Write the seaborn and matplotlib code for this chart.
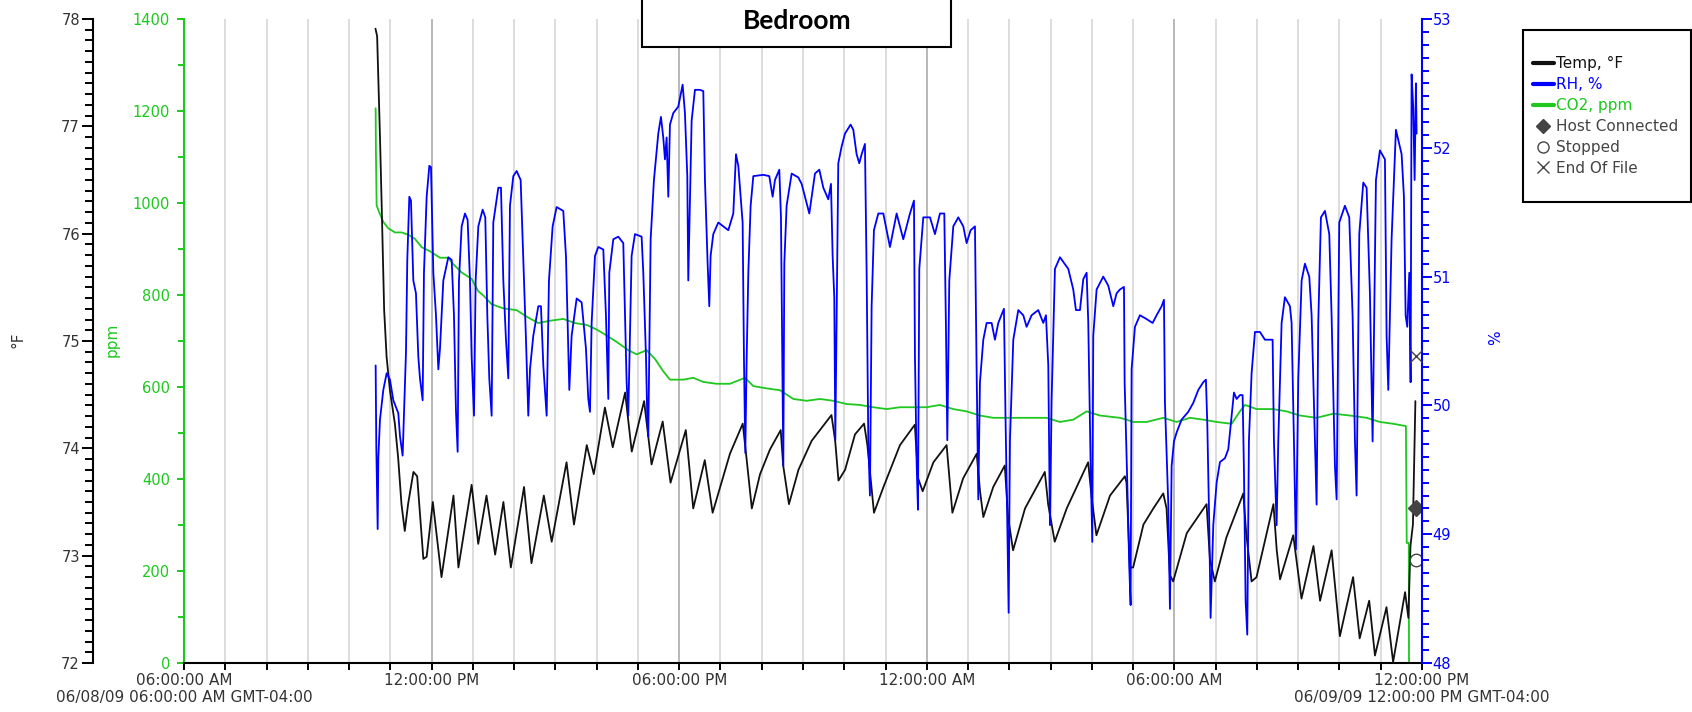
import matplotlib
matplotlib.use("Agg")
import matplotlib.pyplot as plt
import seaborn as sns
from matplotlib.lines import Line2D
from matplotlib.patches import Rectangle
from matplotlib.ticker import MultipleLocator

# ---------------- data (hours after 06/08/09 06:00:00 AM) ----------------
temp_hours = [4.64, 4.68, 4.75, 4.79, 4.85, 4.91, 4.99, 5.11, 5.19, 5.27, 5.35, 5.43, 5.56, 5.65,
              5.80, 5.88, 6.03, 6.24, 6.53, 6.65, 6.97, 7.13, 7.33, 7.54, 7.74, 7.92, 8.24, 8.42,
              8.72, 8.91, 9.27, 9.45, 9.76, 9.93, 10.20, 10.39, 10.69, 10.85, 11.15, 11.33, 11.60,
              11.79, 12.16, 12.34, 12.62, 12.81, 13.23, 13.54, 13.62, 13.76, 13.96, 14.20, 14.46,
              14.52, 14.66, 14.89, 15.21, 15.69, 15.78, 15.86, 16.02, 16.26, 16.48, 16.56, 16.72,
              16.95, 17.35, 17.71, 17.79, 17.90, 18.16, 18.48, 18.54, 18.62, 18.88, 19.21, 19.29,
              19.37, 19.61, 19.89, 19.97, 20.09, 20.38, 20.86, 20.94, 21.10, 21.39, 21.91, 21.99,
              22.11, 22.44, 22.80, 22.84, 22.92, 23.00, 23.25, 23.49, 23.73, 23.81, 23.89, 23.97,
              24.30, 24.78, 24.86, 24.98, 25.26, 25.67, 25.74, 25.87, 25.99, 26.40, 26.48, 26.56,
              26.88, 27.08, 27.37, 27.53, 27.81, 28.01, 28.33, 28.49, 28.72, 28.86, 29.14, 29.30,
              29.59, 29.67, 29.72, 29.78, 29.84]
temp_f = [77.91, 77.84, 76.89, 76.27, 75.29, 74.85, 74.54, 74.23, 73.91, 73.48, 73.23, 73.48, 73.78, 73.74,
          72.97, 72.99, 73.50, 72.80, 73.56, 72.89, 73.66, 73.11, 73.56, 73.01, 73.50, 72.89, 73.64, 72.93,
          73.56, 73.13, 73.87, 73.29, 74.03, 73.76, 74.38, 74.01, 74.52, 73.97, 74.44, 73.85, 74.25,
          73.68, 74.17, 73.44, 73.89, 73.40, 73.95, 74.23, 73.95, 73.44, 73.76, 73.99, 74.17,
          73.84, 73.48, 73.80, 74.07, 74.31, 74.07, 73.70, 73.80, 74.13, 74.23, 74.03, 73.40,
          73.64, 74.03, 74.22, 73.72, 73.60, 73.87, 74.03, 73.76, 73.40, 73.72, 73.95, 73.60,
          73.36, 73.64, 73.84, 73.36, 73.05, 73.44, 73.78, 73.48, 73.13, 73.44, 73.87, 73.56,
          73.19, 73.56, 73.74, 73.68, 72.89, 72.89, 73.29, 73.44, 73.58, 73.44, 72.82, 72.76,
          73.21, 73.48, 72.97, 72.76, 73.17, 73.58, 73.21, 72.76, 72.80, 73.48, 73.05, 72.78,
          73.19, 72.60, 73.09, 72.58, 73.05, 72.25, 72.80, 72.23, 72.58, 72.07, 72.52, 72.01,
          72.66, 72.42, 73.09, 73.29, 74.44]

rh_hours = [4.644, 4.660, 4.693, 4.709, 4.749, 4.830, 4.911, 4.991, 5.072, 5.193, 5.234, 5.298, 5.379,
            5.411, 5.460, 5.500, 5.557, 5.621, 5.678, 5.718, 5.783, 5.815, 5.880, 5.945, 5.985, 6.042,
            6.106, 6.163, 6.203, 6.284, 6.405, 6.486, 6.542, 6.591, 6.631, 6.663, 6.728, 6.809, 6.873,
            6.930, 6.970, 7.027, 7.067, 7.132, 7.237, 7.301, 7.350, 7.398, 7.455, 7.495, 7.617, 7.681,
            7.738, 7.802, 7.859, 7.899, 7.980, 8.061, 8.158, 8.222, 8.287, 8.343, 8.384, 8.464, 8.586,
            8.650, 8.707, 8.788, 8.844, 8.933, 9.030, 9.191, 9.256, 9.296, 9.337, 9.393, 9.515, 9.636,
            9.741, 9.797, 9.838, 9.878, 9.959, 10.039, 10.161, 10.225, 10.282, 10.306, 10.403, 10.524,
            10.645, 10.686, 10.726, 10.766, 10.847, 10.928, 11.089, 11.130, 11.195, 11.227, 11.251,
            11.308, 11.388, 11.493, 11.558, 11.614, 11.655, 11.695, 11.736, 11.776, 11.857, 11.978,
            12.083, 12.139, 12.196, 12.220, 12.261, 12.301, 12.382, 12.503, 12.584, 12.624, 12.689,
            12.729, 12.761, 12.826, 12.947, 13.069, 13.190,
            13.311, 13.376, 13.432, 13.489, 13.537, 13.570, 13.602, 13.634, 13.675, 13.731, 13.796,
            14.038, 14.183, 14.264, 14.321, 14.426, 14.466, 14.490, 14.523, 14.547, 14.603, 14.725,
            14.886, 14.967, 15.153, 15.290, 15.395, 15.492, 15.613, 15.678, 15.718, 15.758, 15.783,
            15.815, 15.855, 15.936, 16.017, 16.154, 16.219, 16.299, 16.364, 16.421, 16.501, 16.542,
            16.582, 16.622, 16.663, 16.719, 16.825, 16.946, 17.107, 17.269, 17.430, 17.592, 17.689,
            17.713, 17.753, 17.786, 17.818, 17.915, 18.077, 18.198, 18.319, 18.424, 18.464, 18.497,
            18.545, 18.642, 18.763, 18.884, 18.965, 19.062, 19.167, 19.207, 19.248, 19.288, 19.369,
            19.450, 19.571, 19.651, 19.732, 19.869, 19.910, 19.950, 19.983, 20.015, 20.096, 20.217,
            20.338, 20.419, 20.540, 20.701, 20.823, 20.887, 20.944, 20.984, 21.025, 21.105, 21.227,
            21.428, 21.549, 21.614, 21.711, 21.792, 21.873, 21.913, 21.969, 22.010, 22.034, 22.115,
            22.276, 22.397, 22.519, 22.599,
            22.680, 22.778, 22.794, 22.858, 22.907, 22.939, 22.963, 23.044, 23.165, 23.327, 23.472,
            23.569, 23.690, 23.747, 23.771, 23.852, 23.892, 23.933, 23.989, 24.054, 24.175, 24.336,
            24.458, 24.579, 24.700, 24.764, 24.797, 24.845, 24.877, 24.942, 25.023, 25.104, 25.225,
            25.306, 25.386, 25.443, 25.508, 25.588, 25.653, 25.685, 25.726, 25.766, 25.806, 25.871,
            25.952, 26.073, 26.194, 26.380, 26.412, 26.477, 26.517, 26.598, 26.678, 26.800, 26.840,
            26.897, 26.945, 27.002, 27.083, 27.163, 27.268, 27.325, 27.406, 27.446, 27.486, 27.551,
            27.648, 27.753, 27.809, 27.890, 27.931, 27.995, 28.132, 28.237, 28.318, 28.375, 28.415,
            28.480, 28.577, 28.658, 28.738, 28.803, 28.884, 28.980, 29.102, 29.142, 29.183, 29.263,
            29.368, 29.506, 29.562, 29.603, 29.643, 29.692, 29.724, 29.748, 29.788, 29.821, 29.853,
            29.869]
rh_pct = [50.31, 49.68, 49.04, 49.59, 49.89, 50.12, 50.25, 50.20, 50.04, 49.94, 49.76, 49.61, 50.41,
          51.13, 51.62, 51.59, 50.97, 50.87, 50.38, 50.21, 50.04, 51.03, 51.62, 51.86, 51.85, 51.03,
          50.70, 50.28, 50.44, 50.97, 51.15, 51.13, 50.70, 49.95, 49.64, 50.97, 51.39, 51.49, 51.44,
          50.97, 50.38, 49.92, 50.97, 51.39, 51.52, 51.46, 50.70, 50.21, 49.92, 51.42, 51.69, 51.69,
          50.97, 50.51, 50.21, 51.55, 51.78, 51.82, 51.75, 51.13, 50.51, 49.92, 50.28, 50.54, 50.77,
          50.77, 50.31, 49.92, 50.97, 51.39, 51.54, 51.51, 51.16, 50.64, 50.12, 50.54, 50.83, 50.80,
          50.44, 50.05, 49.95, 50.64, 51.16, 51.23, 51.21, 50.70, 50.05, 51.03, 51.29, 51.31,
          51.26, 50.70, 50.18, 49.92, 51.16, 51.33, 51.31, 51.03, 50.38, 49.89, 49.76,
          51.29, 51.75, 52.11, 52.24, 52.08, 51.91, 52.08, 51.62, 52.18, 52.27, 52.32,
          52.49, 52.27, 51.78, 50.97, 51.59, 52.21, 52.45, 52.45, 52.44, 51.75, 51.10,
          50.77, 51.16, 51.33, 51.42, 51.39, 51.36,
          51.49, 51.95, 51.86, 51.62, 51.42, 50.35, 49.63, 50.35, 51.03, 51.55, 51.78,
          51.79, 51.78, 51.62, 51.75, 51.83, 51.46, 50.64, 49.53, 51.10, 51.55, 51.80,
          51.77, 51.72, 51.49, 51.80, 51.83, 51.69, 51.60, 51.72, 51.16, 50.84, 49.73,
          50.70, 51.88, 52.01, 52.11, 52.18, 52.14, 51.95, 51.88, 51.95, 52.03, 51.03,
          49.73, 49.30, 50.77, 51.36, 51.49, 51.49, 51.23, 51.49, 51.29, 51.49, 51.59,
          50.38, 49.56, 49.19, 51.06, 51.46, 51.46, 51.33, 51.49, 51.49, 50.61, 49.73,
          50.97, 51.39, 51.46, 51.39, 51.26, 51.36, 51.39, 50.28, 49.27, 50.18, 50.51,
          50.64, 50.64, 50.51, 50.64, 50.75, 49.86, 49.10, 48.39, 49.73, 50.51, 50.74,
          50.70, 50.61, 50.70, 50.74, 50.64, 50.70, 50.31, 49.07, 50.05, 51.06, 51.15,
          51.06, 50.90, 50.74, 50.74, 50.98, 51.03, 50.64, 49.56, 48.94, 50.54, 50.90,
          51.00, 50.93, 50.77, 50.87,
          50.90, 50.92, 50.18, 49.40, 48.74, 48.45, 50.28, 50.61, 50.70, 50.67, 50.64,
          50.70, 50.77, 50.82, 50.02, 49.23, 48.42, 49.53, 49.72, 49.79, 49.89, 49.95,
          50.02, 50.12, 50.18, 50.20, 49.86, 49.07, 48.35, 49.07, 49.40, 49.56, 49.59,
          49.66, 49.92, 50.10, 50.05, 50.08, 50.08, 49.50, 48.48, 48.22, 49.73, 50.25,
          50.57, 50.57, 50.51, 50.51, 49.72, 49.07, 49.72, 50.64, 50.84, 50.77, 50.64,
          49.72, 48.88, 50.21, 50.97, 51.10, 51.00, 50.70, 49.72, 49.23, 50.64, 51.46,
          51.51, 51.33, 50.70, 49.53, 49.27, 51.42, 51.55, 51.46, 50.70, 49.72, 49.30,
          51.33, 51.73, 51.69, 50.87, 49.72, 51.75, 51.98, 51.91, 50.54, 50.12, 51.29,
          52.14, 51.95, 51.62, 50.70, 50.61, 51.03, 50.18, 52.57, 52.31, 51.75, 52.50,
          52.11]

co2_hours = [4.644, 4.650, 4.668, 4.725, 4.830, 4.951, 5.113, 5.274, 5.436, 5.597, 5.759, 5.961,
             6.203, 6.405, 6.526, 6.728, 6.970, 7.132, 7.253, 7.455, 7.738, 8.061, 8.303, 8.586,
             8.868, 9.191, 9.474, 9.757, 10.000, 10.241, 10.484, 10.767, 10.969, 11.211, 11.413,
             11.615, 11.776, 12.099, 12.341, 12.584, 12.907, 13.230, 13.594, 13.796, 14.119,
             14.442, 14.765, 15.088, 15.411, 15.734, 16.057, 16.380, 16.703, 17.026, 17.349,
             17.673, 17.996, 18.319, 18.642, 18.965, 19.288, 19.611, 19.934, 20.257, 20.580,
             20.903, 21.226, 21.550, 21.873, 22.196, 22.680, 22.842, 23.004, 23.327, 23.731,
             24.054, 24.377, 24.700, 25.023, 25.386, 25.588, 25.709, 25.992, 26.396, 26.719,
             27.042, 27.446, 27.850, 28.254, 28.658, 28.980, 29.304, 29.610, 29.630, 29.680,
             29.685, 29.870]
co2_ppm = [1206, 1114, 995, 981, 959, 945, 936, 936, 931, 922, 904, 895,
           881, 881, 867, 849, 835, 808, 799, 780, 771, 767, 753, 739,
           744, 748, 739, 735, 725, 712, 698, 680, 671, 680, 661,
           634, 616, 616, 620, 611, 607, 607, 620, 602, 597,
           593, 574, 570, 574, 570, 563, 561, 556, 552, 556,
           556, 556, 561, 552, 547, 538, 533, 533, 533, 533,
           533, 524, 529, 547, 538, 533, 529, 524, 524, 533,
           524, 533, 529, 524, 520, 547, 561, 552, 552, 547,
           538, 533, 542, 538, 533, 524, 520, 515, 261, 261,
           0, 0]

event_labels = ["Host Connected", "Stopped", "End Of File"]
event_hours = [29.85, 29.85, 29.85]
event_temp_f = [73.44, 72.96]      # Host Connected, Stopped (°F scale)
event_rh_pct = [50.38]             # End Of File (% scale)

series_labels = ["Temp, °F", "RH, %", "CO2, ppm"]
x_tick_hours = [0, 6, 12, 18, 24, 30]
x_tick_labels = ["06:00:00 AM\n06/08/09 06:00:00 AM GMT-04:00", "12:00:00 PM", "06:00:00 PM",
                 "12:00:00 AM", "06:00:00 AM", "12:00:00 PM\n06/09/09 12:00:00 PM GMT-04:00"]
title = "Bedroom"

# ---------------- styling ----------------
sns.set_style("white")
plt.rcParams['font.family'] = ['DejaVu Sans']

BLACK = "#111111"
BLUE = "#0000ff"
GREEN = "#1ec81e"
GREY = "#444444"
TXT = "#333333"

W, H = 1692, 712
fig = plt.figure(figsize=(W / 100, H / 100), dpi=100)


def fx(px):
    return px / W


def fy(py):
    return 1 - py / H


def pt(px):
    return px * 72 / 100


ax = fig.add_axes([fx(184), fy(663), fx(1422) - fx(184), fy(19) - fy(663)])
ax_t = ax.twinx()
ax_rh = ax.twinx()

# CO2 on host
sns.lineplot(x=co2_hours, y=co2_ppm, ax=ax, color=GREEN, lw=1.3, estimator=None, sort=False)
# Temperature
sns.lineplot(x=temp_hours, y=temp_f, ax=ax_t, color=BLACK, lw=1.3, estimator=None, sort=False)
# RH
sns.lineplot(x=rh_hours, y=rh_pct, ax=ax_rh, color=BLUE, lw=1.3, estimator=None, sort=False)

# events
ax_t.plot(event_hours[0], event_temp_f[0], marker='D', ms=8.5, color=GREY, ls='none', zorder=5)
ax_t.plot(event_hours[1], event_temp_f[1], marker='o', ms=9, mfc='white', mec=GREY, mew=1.0,
          ls='none', zorder=5)
ax_rh.plot(event_hours[2], event_rh_pct[0], marker='x', ms=8, color=GREY, mew=1.0, ls='none', zorder=5)

# x axis
ax.set_xlim(0, 30)
ax.set_xticks(x_tick_hours)
ax.set_xticklabels(x_tick_labels)
ax.xaxis.set_minor_locator(MultipleLocator(1))
ax.tick_params(axis='x', which='both', direction='out', length=pt(7), width=1.4, color='black',
               labelsize=11, labelcolor=TXT, pad=2, bottom=True)
ax.grid(False)
ax.grid(which='major', axis='x', color='#b8b8b8', lw=1.4)
ax.grid(which='minor', axis='x', color='#dddddd', lw=1.4)
ax.set_axisbelow(True)
ax.set_xlabel("")
ax.set_ylabel("")

# ppm axis (host, left)
ax.set_ylim(0, 1400)
ax.yaxis.set_major_locator(MultipleLocator(200))
ax.yaxis.set_minor_locator(MultipleLocator(100))
ax.tick_params(axis='y', which='major', direction='out', length=pt(7), width=1.4, color=GREEN,
               labelcolor=GREEN, labelsize=10.5, pad=pt(7), left=True)
ax.tick_params(axis='y', which='minor', direction='out', length=pt(6), width=1.4, color=GREEN, left=True)
for s in ['top', 'right']:
    ax.spines[s].set_visible(False)
ax.spines['left'].set_color(GREEN)
ax.spines['left'].set_linewidth(1.5)
ax.spines['bottom'].set_color('black')
ax.spines['bottom'].set_linewidth(1.5)

# temperature axis (outer left)
ax_t.set_ylim(72, 78)
ax_t.yaxis.tick_left()
ax_t.yaxis.set_label_position('left')
for s in ['top', 'right', 'bottom']:
    ax_t.spines[s].set_visible(False)
ax_t.spines['left'].set_visible(True)
ax_t.spines['left'].set_position(('outward', pt(91)))
ax_t.spines['left'].set_color('black')
ax_t.spines['left'].set_linewidth(1.5)
ax_t.yaxis.set_major_locator(MultipleLocator(1))
ax_t.yaxis.set_minor_locator(MultipleLocator(0.1))
ax_t.tick_params(axis='y', which='major', direction='out', length=pt(11), width=1.4, color='black',
                 labelcolor=TXT, labelsize=10.5, pad=pt(2), left=True, right=False)
ax_t.tick_params(axis='y', which='minor', direction='out', length=pt(8), width=1.4, color='black',
                 left=True, right=False)
ax_t.set_ylabel("")
ax_t.grid(False)

# RH axis (right)
ax_rh.set_ylim(48, 53)
for s in ['top', 'left', 'bottom']:
    ax_rh.spines[s].set_visible(False)
ax_rh.spines['right'].set_color(BLUE)
ax_rh.spines['right'].set_linewidth(1.5)
ax_rh.yaxis.set_major_locator(MultipleLocator(1))
ax_rh.yaxis.set_minor_locator(MultipleLocator(0.1))
ax_rh.tick_params(axis='y', which='major', direction='out', length=pt(10), width=1.4, color=BLUE,
                  labelcolor=BLUE, labelsize=10.5, pad=0.5, right=True)
ax_rh.tick_params(axis='y', which='minor', direction='out', length=pt(7), width=1.4, color=BLUE, right=True)
ax_rh.set_ylabel("")
ax_rh.grid(False)

# axis titles
fig.text(fx(18), fy(340), "°F", rotation=90, ha='center', va='center', fontsize=11, color=TXT)
fig.text(fx(112), fy(340), "ppm", rotation=90, ha='center', va='center', fontsize=11, color=GREEN)
fig.text(fx(1496), fy(338), "%", rotation=90, ha='center', va='center', fontsize=11, color=BLUE)

# title box
fig.add_artist(Rectangle((fx(642), fy(47)), fx(951) - fx(642), 0.1, transform=fig.transFigure,
                         facecolor='white', edgecolor='black', lw=1.5, zorder=3))
fig.text(fx(797), fy(21), title, ha='center', va='center', fontsize=19, fontweight='bold',
         family=['Lato', 'DejaVu Sans'], color='black', zorder=4)

# legend box
fig.add_artist(Rectangle((fx(1523), fy(202)), fx(1691) - fx(1523), fy(30) - fy(202),
                         transform=fig.transFigure, facecolor='white', edgecolor='black', lw=1.5,
                         zorder=3))
handles = [Line2D([], [], color=BLACK, lw=3),
           Line2D([], [], color=BLUE, lw=3),
           Line2D([], [], color=GREEN, lw=3),
           Line2D([], [], marker='D', color=GREY, ms=7, ls='none'),
           Line2D([], [], marker='o', mfc='white', mec=GREY, ms=8, ls='none'),
           Line2D([], [], marker='x', color=GREY, ms=8, ls='none')]
labels = series_labels + event_labels
leg = fig.legend(handles, labels, loc='upper left', bbox_to_anchor=(fx(1533), fy(56)),
                 frameon=False, fontsize=11, handlelength=1.35, handletextpad=0.15,
                 labelspacing=0.39, borderpad=0, borderaxespad=0)
leg.set_zorder(5)
for txt, c in zip(leg.get_texts(), [BLACK, BLUE, GREEN, GREY, GREY, GREY]):
    txt.set_color(c)

fig.savefig("out.png", dpi=100)
